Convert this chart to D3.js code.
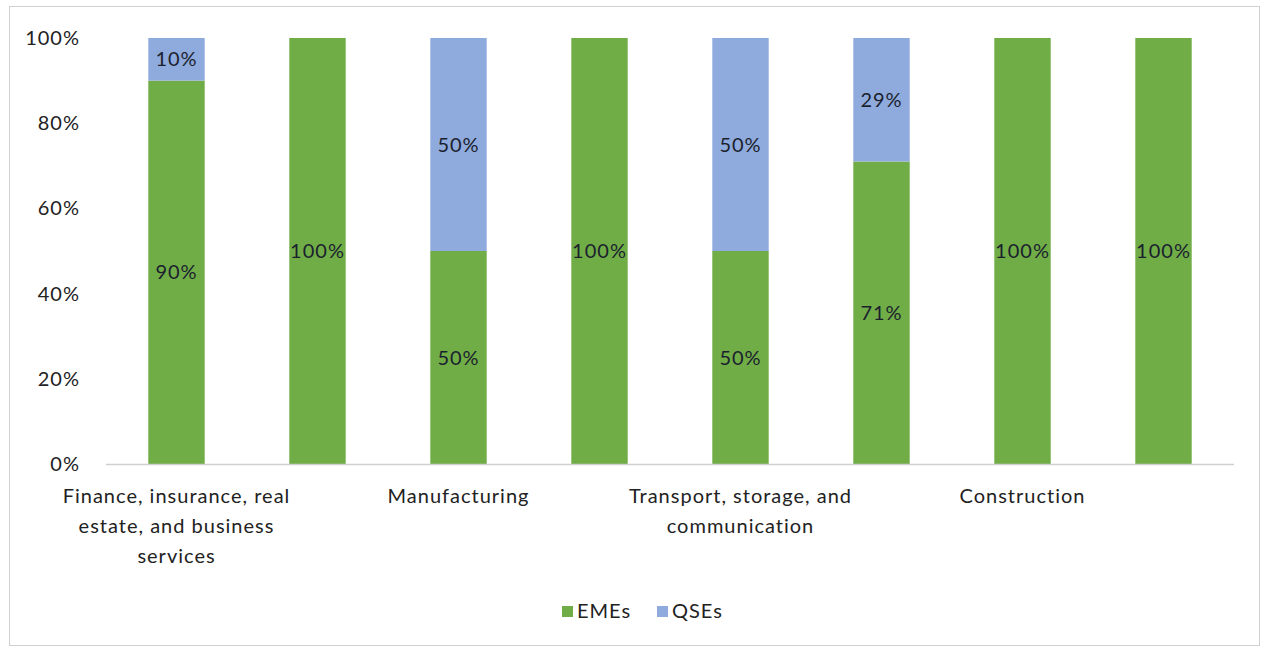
<!DOCTYPE html>
<html>
<head>
<meta charset="utf-8">
<script src="https://cdn.jsdelivr.net/npm/d3@7"></script>
<style>
  body { margin: 0; background: #fff; }
  text { font-family: Lato, "Open Sans", sans-serif; letter-spacing: 1px; }
</style>
</head>
<body>
<div id="vis-container"></div>
<script>
// data
const categories = ["Finance, insurance, real estate, and business services", "",
    "Manufacturing", "", "Transport, storage, and communication", "", "Construction", ""];
const emes = [90, 100, 50, 100, 50, 71, 100, 100];
const qses = [10, 0, 50, 0, 50, 29, 0, 0];
const seriesNames = ["EMEs", "QSEs"];
const yTicks = [0, 20, 40, 60, 80, 100];

const colors = ["#70ad47", "#8faadc"];

const width = 1262;
const height = 648;
const margin = { top: 38, right: 28, bottom: 184, left: 106 };
const fontSize = "20px";

const svg = d3.select("#vis-container")
    .append("svg")
    .attr("width", width)
    .attr("height", height);

// chart frame
svg.append("rect")
    .attr("x", 9.5).attr("y", 6.5)
    .attr("width", 1250).attr("height", 639)
    .attr("fill", "none")
    .attr("stroke", "#d0d0d0");

const keys = d3.range(categories.length);

const x = d3.scaleBand()
    .domain(keys)
    .range([margin.left, width - margin.right])
    .paddingInner(0.6)
    .paddingOuter(0.3);

const y = d3.scaleLinear()
    .domain([0, 100])
    .range([height - margin.bottom, margin.top]);

// y axis (labels only)
svg.append("g")
    .attr("transform", `translate(${margin.left - 23},0)`)
    .call(d3.axisLeft(y).tickValues(yTicks).tickSize(0).tickFormat(d => d + "%"))
    .call(g => g.select(".domain").remove())
    .call(g => g.selectAll("text")
        .attr("font-size", fontSize)
        .attr("fill", "#222")
        .attr("font-family", "Lato, sans-serif"));

// stacked bars
const rows = keys.map(i => ({ i: i, EMEs: emes[i], QSEs: qses[i] }));
const stack = d3.stack().keys(seriesNames)(rows);

const layers = svg.selectAll(".layer")
    .data(stack)
    .enter()
    .append("g")
    .attr("class", "layer")
    .attr("fill", (d, k) => colors[k]);

layers.selectAll("rect")
    .data(d => d)
    .enter()
    .append("rect")
    .attr("x", d => x(d.data.i))
    .attr("y", d => y(d[1]))
    .attr("width", x.bandwidth())
    .attr("height", d => y(d[0]) - y(d[1]));

// data labels
layers.selectAll(".lbl")
    .data(d => d.filter(s => s[1] - s[0] > 0))
    .enter()
    .append("text")
    .attr("class", "lbl")
    .attr("x", d => x(d.data.i) + x.bandwidth() / 2)
    .attr("y", d => y((d[0] + d[1]) / 2))
    .attr("dy", "0.35em")
    .attr("text-anchor", "middle")
    .attr("font-size", fontSize)
    .attr("fill", "#1b1f2e")
    .text(d => (d[1] - d[0]) + "%");

// baseline
svg.append("line")
    .attr("x1", margin.left).attr("x2", width - margin.right)
    .attr("y1", y(0) + 0.5).attr("y2", y(0) + 0.5)
    .attr("stroke", "#d0d0d0")
    .attr("stroke-width", 1.5);

// x axis labels, wrapped
const xAxis = svg.append("g")
    .attr("transform", `translate(0,${y(0)})`)
    .call(d3.axisBottom(x).tickSize(0).tickFormat(i => categories[i]))
    .call(g => g.select(".domain").remove());

xAxis.selectAll("text")
    .attr("font-size", fontSize)
    .attr("fill", "#222")
    .attr("font-family", "Lato, sans-serif")
    .attr("y", null)
    .attr("dy", null)
    .call(wrap, 245);

function wrap(texts, maxW) {
    texts.each(function () {
        const t = d3.select(this);
        const words = t.text().split(/\s+/).filter(w => w);
        t.text(null);
        let line = [];
        let n = 0;
        let tspan = t.append("tspan").attr("x", 0).attr("y", 32).attr("dy", "0.35em");
        words.forEach(w => {
            line.push(w);
            tspan.text(line.join(" "));
            if (tspan.node().getComputedTextLength() > maxW && line.length > 1) {
                line.pop();
                tspan.text(line.join(" "));
                line = [w];
                n++;
                tspan = t.append("tspan").attr("x", 0)
                    .attr("y", 32 + n * 30).attr("dy", "0.35em").text(w);
            }
        });
    });
}

// legend
const legend = svg.append("g").attr("transform", "translate(562,611)");
const legendX = [0, 95];
seriesNames.forEach((name, k) => {
    const g = legend.append("g").attr("transform", `translate(${legendX[k]},0)`);
    g.append("rect")
        .attr("x", 0).attr("y", -5)
        .attr("width", 11).attr("height", 11)
        .attr("fill", colors[k]);
    g.append("text")
        .attr("x", 15).attr("y", 0)
        .attr("dy", "0.35em")
        .attr("font-size", fontSize)
        .attr("fill", "#222")
        .text(name);
});
</script>
</body>
</html>
